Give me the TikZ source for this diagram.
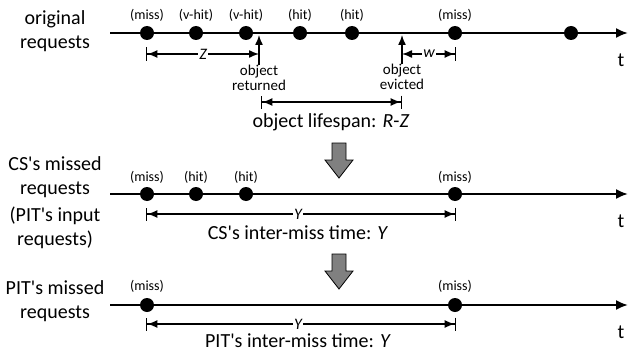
\documentclass[tikz,border=0pt]{standalone}
\usepackage{fontspec}
\setmainfont{Carlito}
\usetikzlibrary{arrows.meta}
\newcommand{\ap}{\textquotesingle}
\begin{document}
\begin{tikzpicture}[x=1pt,y=-1pt,
  axis/.style={line width=2pt,-{Latex[length=12pt,width=10pt]}},
  ev/.style={circle,fill=black,minimum size=14pt,inner sep=0pt},
  tag/.style={font=\fontsize{14}{16}\selectfont,inner sep=0pt},
  big/.style={font=\fontsize{20}{24}\selectfont,align=center,inner sep=0pt},
  small/.style={font=\fontsize{15}{15.5}\selectfont,align=center,inner sep=0pt},
  dimtext/.style={font=\fontsize{16}{16}\selectfont\itshape,fill=white,inner sep=1pt},
  tip/.style={Latex[length=10pt,width=8pt]},
  dimboth/.style={line width=1.4pt,{Bar[width=13pt,sep=0pt]Latex[length=10pt,width=8pt]}-{Latex[length=10pt,width=8pt]Bar[width=13pt,sep=0pt]}},
  dimleft/.style={line width=1.4pt,{Bar[width=13pt,sep=0pt]Latex[length=10pt,width=8pt]}-{Latex[length=10pt,width=8pt]}},
  dimright/.style={line width=1.4pt,{Latex[length=10pt,width=8pt]}-{Latex[length=10pt,width=8pt]Bar[width=13pt,sep=0pt]}},
  pointer/.style={line width=1.4pt,-{Latex[length=10pt,width=8pt]}},
  flow/.style={draw=black,line width=0.8pt,fill=gray},
]
\useasboundingbox (0,0) rectangle (644,353);

% ---------- original requests ----------
\node[big] (lab1) at (55,31) {original\\requests};
\coordinate (s1) at (110,33);
\coordinate (e1) at (628,33);
\draw[axis] (s1) -- (e1);
\node[big] (t1) at (621,60) {t};
\node[ev] (a1) at (147,33) {};
\node[ev] (a2) at (196,33) {};
\node[ev] (a3) at (246,33) {};
\node[ev] (a4) at (300,33) {};
\node[ev] (a5) at (352,33) {};
\node[ev] (a6) at (455,33) {};
\node[ev] (a7) at (571,33) {};
\node[tag] (l1) at (147,15) {(miss)};
\node[tag] (l2) at (196,15) {(v-hit)};
\node[tag] (l3) at (246,15) {(v-hit)};
\node[tag] (l4) at (300,15) {(hit)};
\node[tag] (l5) at (352,15) {(hit)};
\node[tag] (l6) at (455,15) {(miss)};

% object returned / evicted markers
\node[small] (ret) at (259,78) {object\\returned};
\coordinate (retp) at (259,35);
\draw[pointer] (ret.north) -- (retp);
\node[small] (evi) at (402,77) {object\\evicted};
\coordinate (evip) at (402,35);
\draw[pointer] (evi.north) -- (evip);

% Z span
\coordinate (z0) at (146,54);
\coordinate (z1) at (259,54);
\draw[dimleft] (z0) -- (z1);
\node[dimtext] (zt) at (203,54) {Z};

% w span
\coordinate (w0) at (402,54);
\coordinate (w1) at (456,54);
\draw[dimright] (w0) -- (w1);
\node[dimtext] (wt) at (429,54) {w};

% lifespan
\coordinate (r0) at (261,102);
\coordinate (r1) at (402,102);
\draw[dimboth] (r0) -- (r1);
\node[big] (life) at (331,122) {object lifespan: \textit{R}-\textit{Z}};

% ---------- transition arrow ----------
\draw[flow] (332,143) -- (346,143) -- (346,160) -- (353,160) -- (339,178)
  -- (325,160) -- (332,160) -- cycle;

% ---------- CS's missed requests ----------
\node[big] (lab2) at (55,177) {CS\ap s missed\\requests};
\node[big] (lab2b) at (55,228) {(PIT\ap s input\\requests)};
\coordinate (s2) at (110,194);
\coordinate (e2) at (628,194);
\draw[axis] (s2) -- (e2);
\node[big] (t2) at (621,221) {t};
\node[ev] (b1) at (147,194) {};
\node[ev] (b2) at (196,194) {};
\node[ev] (b3) at (246,194) {};
\node[ev] (b4) at (455,194) {};
\node[tag] (m1) at (147,177) {(miss)};
\node[tag] (m2) at (196,177) {(hit)};
\node[tag] (m3) at (246,177) {(hit)};
\node[tag] (m4) at (455,177) {(miss)};
\coordinate (y0) at (146,214);
\coordinate (y1) at (456,214);
\draw[dimboth] (y0) -- (y1);
\node[dimtext] (yt) at (298,214) {Y};
\node[big] (cs) at (298,233) {CS\ap s inter-miss time: \textit{Y}};

% ---------- transition arrow ----------
\draw[flow] (332,254) -- (346,254) -- (346,271) -- (353,271) -- (339,289)
  -- (325,271) -- (332,271) -- cycle;

% ---------- PIT's missed requests ----------
\node[big] (lab3) at (55,301) {PIT\ap s missed\\requests};
\coordinate (s3) at (110,305);
\coordinate (e3) at (628,305);
\draw[axis] (s3) -- (e3);
\node[big] (t3) at (621,332) {t};
\node[ev] (c1) at (147,305) {};
\node[ev] (c2) at (455,305) {};
\node[tag] (n1) at (147,286) {(miss)};
\node[tag] (n2) at (455,286) {(miss)};
\coordinate (q0) at (146,324);
\coordinate (q1) at (456,324);
\draw[dimboth] (q0) -- (q1);
\node[dimtext] (qt) at (298,324) {Y};
\node[big] (pit) at (298,341) {PIT\ap s inter-miss time: \textit{Y}};
\end{tikzpicture}
\end{document}
